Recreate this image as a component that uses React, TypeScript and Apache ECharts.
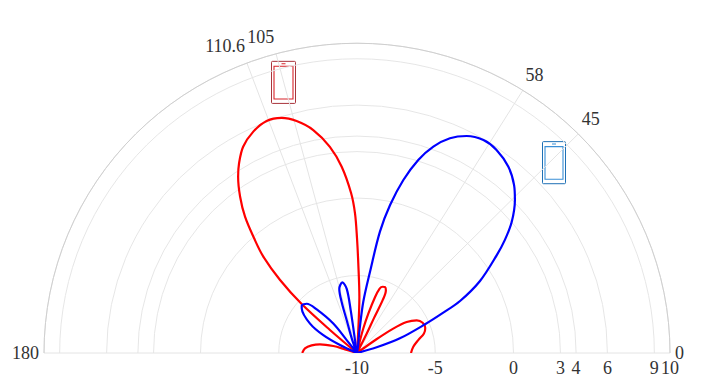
import React, { useEffect, useRef } from "react";
import * as echarts from "echarts";

const angleTicks = [0, 45, 58, 105, 110.6, 180];
const radiusTicks = [-10, -5, 0, 3, 4, 6, 9, 10];

const redAngles = [0, 6.4, 12, 16.4, 20.3, 25, 28.9, 32.2, 34.2, 35.5, 37, 62, 63.5, 64.3, 64.3, 65.5, 67.1, 69, 70.8, 72.3, 74.1, 75.7, 77, 78, 86, 86.8, 87.6, 89.2, 90, 90.8, 92.1, 94.65, 97.42, 100.99, 104.46, 107.63, 111.1, 114.88, 118.66, 121.64, 123.73, 126.52, 129.12, 131.61, 133.91, 136.21, 138.21, 139.3, 140, 162, 162.9, 163.5, 166.8, 170.4, 174.8, 180];
const redDb = [-6.55, -6.38, -6, -5.54, -5.35, -5.37, -5.64, -6.25, -7.2, -8.5, -10, -10, -8.6, -7.5, -6.2, -5.55, -5.38, -5.42, -5.6, -6.22, -7.36, -8.37, -9.35, -10, -10, -8.52, -6.38, -4.19, -2.58, -1.0, 0.33, 2.06, 3.42, 4.66, 5.46, 5.92, 6.05, 5.75, 5.17, 4.37, 3.68, 2.55, 1.34, -0.1, -1.37, -3.19, -5.26, -7.72, -10, -10, -9.2, -8.42, -7.57, -7.06, -6.66, -6.5];

const blueAngles = [15, 16.25, 19.07, 23.1, 25.15, 27, 30.6, 35.27, 37.68, 40.58, 44.39, 47.19, 51.18, 55.77, 59.55, 63.43, 66.81, 69.89, 72.56, 75.14, 77.52, 79.4, 80.99, 83.07, 83.8, 85, 97, 98.7, 98.3, 99, 101.6, 105.3, 106.6, 107.3, 110, 112, 127, 128.4, 128.6, 132.5, 135.3, 139, 141, 147.7, 151.9, 154.8, 156];
const blueDb = [-10, -8.69, -7.1, -5.27, -3.99, -2.61, -0.87, 0.94, 1.94, 3.02, 4.12, 4.77, 5.43, 5.85, 5.94, 5.66, 5.08, 4.19, 3.06, 1.55, -0.22, -2.03, -4.69, -6.67, -8.62, -10, -10, -9.16, -7.22, -5.81, -5.35, -5.71, -6.58, -7.79, -9.1, -10, -10, -8.94, -7.57, -6.19, -5.48, -5.32, -5.46, -6.45, -7.56, -8.8, -10];

const FONT = "'Liberation Serif', serif";
const TEXT = "#333333";
const labelText = { fontFamily: FONT, fontSize: 18, color: TEXT };

const toSeries = (angles: number[], db: number[]) => angles.map((a, i) => [db[i], a]);

const phone = (x: number, y: number, w: number, h: number, outer: string, inner: string) => ({
  type: "group",
  children: [
    { type: "rect", shape: { x, y, width: w, height: h, r: 1 }, style: { fill: "#fff", stroke: outer, lineWidth: 1 } },
    { type: "rect", shape: { x: x + 2.5, y: y + 5, width: w - 5, height: h - 9.5 }, style: { fill: "#fff", stroke: inner, lineWidth: 1.1 } },
    { type: "rect", shape: { x: w / 2 + x - 2, y: y + 2, width: 4, height: 1 }, style: { fill: inner } },
  ],
});

export default function App() {
  const ref = useRef<HTMLDivElement>(null);
  useEffect(() => {
    const chart = echarts.init(ref.current!, null, { renderer: "svg" });
    chart.setOption({
      animation: false,
      backgroundColor: "#fff",
      polar: { center: [357, 353], radius: 313 },
      angleAxis: {
        type: "value",
        min: 0,
        max: 180,
        startAngle: 0,
        endAngle: 180,
        clockwise: false,
        axisLine: { show: true, lineStyle: { color: "#cfcfcf", width: 1 } },
        axisTick: { show: false, customValues: angleTicks },
        axisLabel: {
          show: true,
          customValues: angleTicks,
          margin: 5,
          ...labelText,
          formatter: (v: number) => {
            if (v === 105) return "{p|105}";
            if (v === 110.6) return "{q|110.6}";
            if (v === 45 || v === 58) return `{a|${v}}`;
            return String(v);
          },
          rich: {
            a: { padding: [0, 0, 2, 0], ...labelText },
            p: { padding: [0, 28, 3, 0], ...labelText },
            q: { padding: [0, 0, 3, 0], ...labelText },
          },
        },
        splitLine: { show: true, lineStyle: { color: "#e4e4e4", width: 1 } },
      },
      radiusAxis: {
        type: "value",
        min: -10,
        max: 10,
        axisLine: { show: false },
        axisTick: { show: false, customValues: radiusTicks },
        axisLabel: {
          show: true,
          customValues: radiusTicks,
          margin: -6,
          verticalAlign: "top",
          ...labelText,
        },
        splitLine: { show: true, lineStyle: { color: "#e6e6e6", width: 1 } },
      },
      series: [
        { type: "line", coordinateSystem: "polar", data: toSeries(redAngles, redDb), showSymbol: false, symbol: "none", smooth: 0.33, lineStyle: { color: "#ff0000", width: 2.2 } },
        { type: "line", coordinateSystem: "polar", data: toSeries(blueAngles, blueDb), showSymbol: false, symbol: "none", smooth: 0.33, lineStyle: { color: "#0000ff", width: 2.2 } },
      ],
      graphic: [
        phone(271.5, 58.4, 24, 42.5, "#a8323a", "#d8232a"),
        phone(542.5, 139.5, 23, 42.5, "#1c6fb4", "#3a8fd6"),
      ],
    });
    return () => chart.dispose();
  }, []);
  return (
    <div
      ref={ref}
      style={{ position: "fixed", left: 0, top: 0, width: 711, height: 390, transform: "scaleY(0.99)", transformOrigin: "0 353px" }}
    />
  );
}
